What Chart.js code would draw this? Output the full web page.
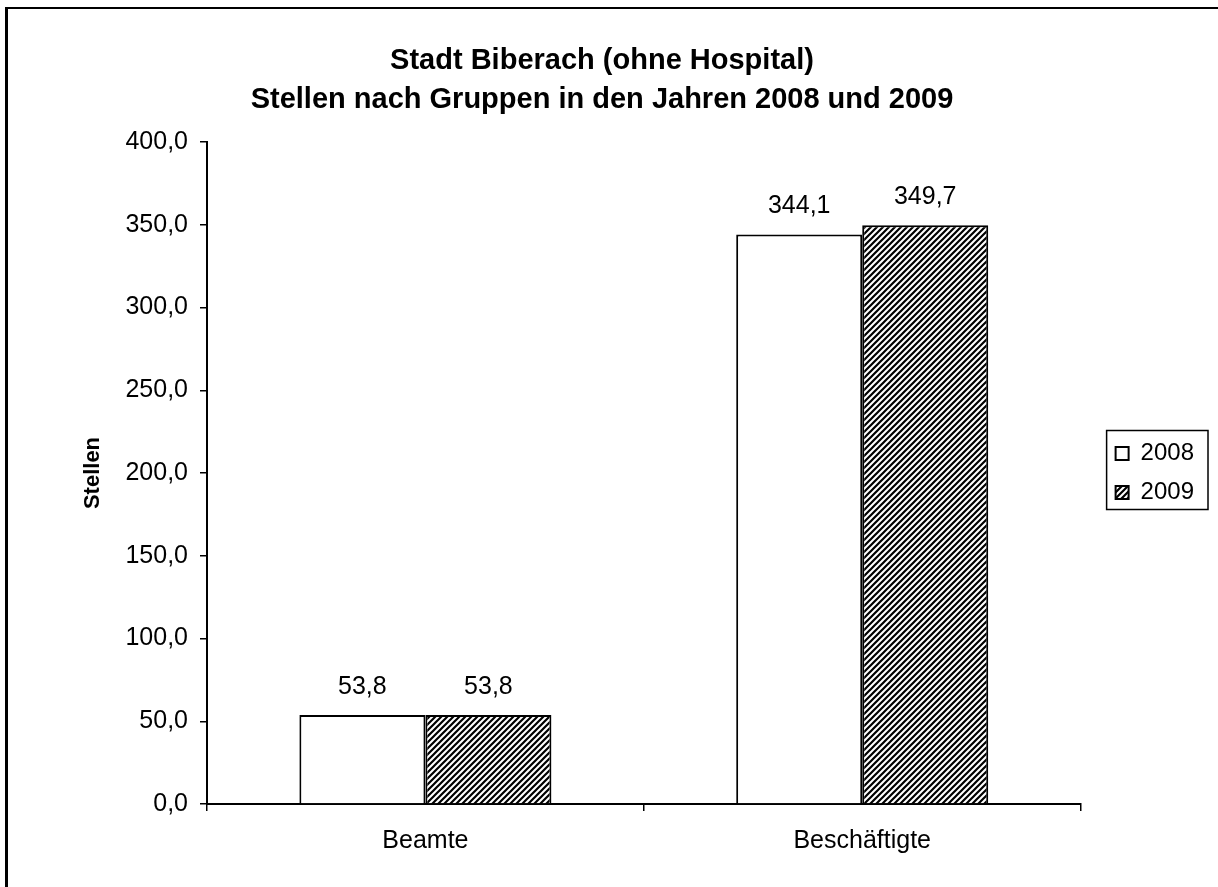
<!DOCTYPE html>
<html>
<head>
<meta charset="utf-8">
<script src="https://cdn.jsdelivr.net/npm/chart.js@4/dist/chart.umd.min.js"></script>
<style>
    body { margin: 0; background: #fff; }
    #wrap { position: relative; width: 1218px; height: 887px; }
    #frame {
        position: absolute; left: 5px; top: 7px; right: 0; bottom: 0;
        border-top: 2px solid #000; border-left: 3px solid #000;
        pointer-events: none;
    }
    canvas { position: absolute; left: 0; top: 0; }
</style>
</head>
<body>
<div id="wrap">
    <canvas id="chart" width="1218" height="887"></canvas>
    <div id="frame"></div>
</div>
<script>
const categories = ['Beamte', 'Beschäftigte'];
const seriesNames = ['2008', '2009'];
const values2008 = [53.8, 344.1];
const values2009 = [53.8, 349.7];
const yMin = 0;
const yMax = 400;
const yStep = 50;

const fmt = v => v.toFixed(1).replace('.', ',');

// schraffur fuer 2009
function hatch() {
    const p = 6;
    const c = document.createElement('canvas');
    c.width = p;
    c.height = p;
    const g = c.getContext('2d');
    g.fillStyle = '#fff';
    g.fillRect(0, 0, p, p);
    g.strokeStyle = '#000';
    g.lineWidth = 2.2;
    g.beginPath();
    g.moveTo(0, p); g.lineTo(p, 0);
    g.moveTo(-1, 1); g.lineTo(1, -1);
    g.moveTo(p - 1, p + 1); g.lineTo(p + 1, p - 1);
    g.stroke();
    return g.createPattern(c, 'repeat');
}

Chart.defaults.font.family = '"Liberation Sans", Arial, sans-serif';
Chart.defaults.color = '#000';

const valueLabels = {
    id: 'valueLabels',
    afterDatasetsDraw(chart) {
        const ctx = chart.ctx;
        ctx.save();
        ctx.font = '25px "Liberation Sans", Arial, sans-serif';
        ctx.fillStyle = '#000';
        ctx.textAlign = 'center';
        ctx.textBaseline = 'middle';
        chart.data.datasets.forEach((ds, i) => {
            chart.getDatasetMeta(i).data.forEach((bar, j) => {
                ctx.fillText(fmt(ds.data[j]), bar.x, bar.y - 28);
            });
        });
        ctx.restore();
    }
};

// rahmen um die legende
const legendBox = {
    id: 'legendBox',
    afterDraw(chart) {
        const hb = chart.legend.legendHitBoxes;
        if (!hb || !hb.length) return;
        const left = Math.min(...hb.map(h => h.left)) - 9;
        const top = Math.min(...hb.map(h => h.top)) - 11;
        const right = Math.max(...hb.map(h => h.left + h.width)) + 14;
        const bottom = Math.max(...hb.map(h => h.top + h.height)) + 5;
        const ctx = chart.ctx;
        ctx.save();
        ctx.strokeStyle = '#000';
        ctx.lineWidth = 1.5;
        ctx.strokeRect(left, top, right - left, bottom - top);
        ctx.restore();
    }
};

const chart = new Chart(document.getElementById('chart'), {
    type: 'bar',
    data: {
        labels: categories,
        datasets: [{
            label: seriesNames[0],
            data: values2008,
            backgroundColor: '#fff',
            borderColor: '#000',
            borderWidth: 2,
        }, {
            label: seriesNames[1],
            data: values2009,
            backgroundColor: hatch(),
            borderColor: '#000',
            borderWidth: 2,
        }]
    },
    options: {
        responsive: false,
        animation: false,
        categoryPercentage: 0.577,
        barPercentage: 1.0,
        layout: {
            padding: { left: 0, right: 14, top: 0, bottom: 16 }
        },
        plugins: {
            title: {
                display: true,
                text: ['Stadt Biberach (ohne Hospital)', 'Stellen nach Gruppen in den Jahren 2008 und 2009'],
                font: { size: 29, weight: 'bold', lineHeight: 1.345 },
                padding: { top: 41, bottom: 23 },
                color: '#000',
            },
            legend: {
                position: 'right',
                fullSize: false,
                labels: {
                    boxWidth: 13,
                    boxHeight: 13,
                    padding: 15,
                    font: { size: 24 },
                    color: '#000',
                }
            },
            tooltip: { enabled: false }
        },
        scales: {
            x: {
                grid: {
                    drawOnChartArea: false,
                    color: '#000',
                    lineWidth: 1.5,
                    tickLength: 7,
                },
                border: { color: '#000', width: 2 },
                ticks: {
                    font: { size: 25 },
                    color: '#000',
                    padding: 15,
                }
            },
            y: {
                min: yMin,
                max: yMax,
                ticks: {
                    stepSize: yStep,
                    font: { size: 25 },
                    color: '#000',
                    padding: 12,
                    callback: v => fmt(v),
                },
                grid: {
                    drawOnChartArea: false,
                    color: '#000',
                    lineWidth: 1.5,
                    tickLength: 7,
                },
                border: { color: '#000', width: 2 },
                title: {
                    display: true,
                    text: 'Stellen',
                    font: { size: 22, weight: 'bold' },
                    color: '#000',
                    padding: { top: 80, bottom: 13 },
                },
                afterFit(s) { s.width = 207; }
            },
            // abstand zwischen diagramm und legende
            gap: {
                type: 'linear',
                position: 'right',
                display: true,
                grid: { display: false },
                border: { display: false },
                ticks: { display: false },
                afterFit(s) { s.width = 20; }
            }
        }
    },
    plugins: [valueLabels, legendBox]
});
</script>
</body>
</html>
